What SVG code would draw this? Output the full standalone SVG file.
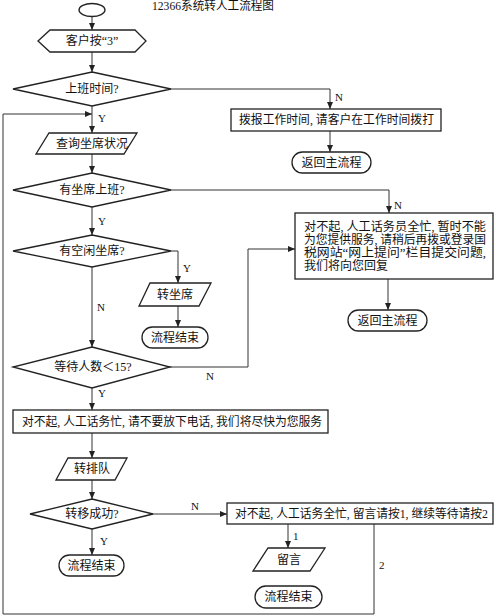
<svg xmlns="http://www.w3.org/2000/svg" width="496" height="616" viewBox="0 0 496 616">
<defs>
<style>
.s{fill:#fff;stroke:#222;stroke-width:1.3}
.c{fill:none;stroke:#333;stroke-width:1}
.t{font-family:"Liberation Serif","Noto Sans CJK SC",serif;font-size:12px;fill:#111}
.m{text-anchor:middle}
.l{font-family:"Liberation Serif","Noto Sans CJK SC",serif;font-size:11px;fill:#111}
</style>
<marker id="a" markerUnits="userSpaceOnUse" markerWidth="7" markerHeight="6" refX="7" refY="3" orient="auto">
<path d="M0,0 L7,3 L0,6 z" fill="#222"/>
</marker>
</defs>
<rect width="496" height="616" fill="#fff"/>
<text class="t" x="152" y="10" textLength="122" lengthAdjust="spacingAndGlyphs">12366系统转人工流程图</text>

<g id="connectors">
<line class="c" x1="92" y1="16" x2="92" y2="30" marker-end="url(#a)"/>
<line class="c" x1="92" y1="52" x2="92" y2="72" marker-end="url(#a)"/>
<polyline class="c" points="171,89 330,89 330,109" marker-end="url(#a)"/>
<line class="c" x1="330" y1="131" x2="330" y2="152" marker-end="url(#a)"/>
<line class="c" x1="92" y1="106" x2="92" y2="133" marker-end="url(#a)"/>
<line class="c" x1="92" y1="154" x2="92" y2="173" marker-end="url(#a)"/>
<polyline class="c" points="171,190 389,190 389,213" marker-end="url(#a)"/>
<line class="c" x1="92" y1="207" x2="92" y2="235" marker-end="url(#a)"/>
<polyline class="c" points="171,251 178,251 178,283" marker-end="url(#a)"/>
<line class="c" x1="178" y1="306" x2="178" y2="327" marker-end="url(#a)"/>
<line class="c" x1="92" y1="267" x2="92" y2="347" marker-end="url(#a)"/>
<polyline class="c" points="170,367 248,367 248,249 295,249" marker-end="url(#a)"/>
<line class="c" x1="388" y1="279" x2="388" y2="310" marker-end="url(#a)"/>
<line class="c" x1="92" y1="388" x2="92" y2="410" marker-end="url(#a)"/>
<line class="c" x1="92" y1="433" x2="92" y2="458" marker-end="url(#a)"/>
<line class="c" x1="92" y1="480" x2="92" y2="499" marker-end="url(#a)"/>
<line class="c" x1="153" y1="514" x2="227" y2="514" marker-end="url(#a)"/>
<line class="c" x1="92" y1="529" x2="92" y2="555" marker-end="url(#a)"/>
<line class="c" x1="288" y1="524" x2="288" y2="548" marker-end="url(#a)"/>
<polyline class="c" points="374,524 374,614 3,614 3,114 92,114" marker-end="url(#a)"/>
<text class="l" x="335" y="101">N</text>
<text class="l" x="98" y="122">Y</text>
<text class="l" x="394" y="209">N</text>
<text class="l" x="98" y="225">Y</text>
<text class="l" x="183" y="272">Y</text>
<text class="l" x="97" y="311">N</text>
<text class="l" x="206" y="380">N</text>
<text class="l" x="98" y="397">Y</text>
<text class="l" x="191" y="510">N</text>
<text class="l" x="100" y="545">Y</text>
<text class="l" x="293" y="540">1</text>
<text class="l" x="379" y="569">2</text>
</g>

<g id="start"><ellipse class="s" cx="92" cy="10" rx="13" ry="6.5"/></g>
<g id="press3"><polygon class="s" points="38,41 50,30 135,30 146,41 135,52 50,52"/><text class="t m" x="92" y="45">客户按“3”</text></g>
<g id="worktime"><polygon class="s" points="92,72 171,89 92,106 13,89"/><text class="t m" x="92" y="93">上班时间?</text></g>
<g id="announce"><rect class="s" x="231" y="109" width="210" height="22"/><text class="t" x="239" y="124" textLength="195" lengthAdjust="spacingAndGlyphs">拨报工作时间, 请客户在工作时间拨打</text></g>
<g id="return1"><rect class="s" x="292" y="152" width="79" height="21" rx="10.5"/><text class="t m" x="331.5" y="166.5">返回主流程</text></g>
<g id="query"><polygon class="s" points="49,133 137,133 124,154 36,154"/><text class="t m" x="92" y="148">查询坐席状况</text></g>
<g id="agentson"><polygon class="s" points="92,173 171,190 92,207 13,190"/><text class="t m" x="92" y="194">有坐席上班?</text></g>
<g id="busyall"><rect class="s" x="295" y="213" width="198" height="66"/>
<text class="t" x="304" y="231" textLength="182" lengthAdjust="spacingAndGlyphs">对不起, 人工话务员全忙, 暂时不能</text>
<text class="t" x="304" y="244" textLength="182" lengthAdjust="spacingAndGlyphs">为您提供服务, 请稍后再拨或登录国</text>
<text class="t" x="304" y="257" textLength="182" lengthAdjust="spacingAndGlyphs">税网站“网上提问”栏目提交问题,</text>
<text class="t" x="304" y="270">我们将向您回复</text></g>
<g id="return2"><rect class="s" x="348" y="310" width="79" height="21" rx="10.5"/><text class="t m" x="387.5" y="324.5">返回主流程</text></g>
<g id="idle"><polygon class="s" points="92,235 171,251 92,267 13,251"/><text class="t m" x="92" y="255">有空闲坐席?</text></g>
<g id="toagent"><polygon class="s" points="150,283 211,283 199,306 139,306"/><text class="t m" x="175" y="299">转坐席</text></g>
<g id="end1"><rect class="s" x="142" y="327" width="66" height="21" rx="10.5"/><text class="t m" x="175" y="341.5">流程结束</text></g>
<g id="wait"><polygon class="s" points="92,347 170,367 92,388 13,367"/><text class="t m" x="93" y="371">等待人数＜15?</text></g>
<g id="hold"><rect class="s" x="13" y="410" width="315" height="23"/><text class="t" x="22" y="426" textLength="300" lengthAdjust="spacingAndGlyphs">对不起, 人工话务忙, 请不要放下电话, 我们将尽快为您服务</text></g>
<g id="queue"><polygon class="s" points="68,458 127,458 115,480 56,480"/><text class="t m" x="92" y="473">转排队</text></g>
<g id="success"><polygon class="s" points="92,499 153,514 92,529 30,514"/><text class="t m" x="92" y="518">转移成功?</text></g>
<g id="end2"><rect class="s" x="59" y="555" width="65" height="21" rx="10.5"/><text class="t m" x="91.5" y="569.5">流程结束</text></g>
<g id="allbusy"><rect class="s" x="227" y="503" width="266" height="21"/><text class="t" x="235" y="518" textLength="253" lengthAdjust="spacingAndGlyphs">对不起, 人工话务全忙, 留言请按1, 继续等待请按2</text></g>
<g id="message"><polygon class="s" points="268,548 325,548 310,571 253,571"/><text class="t m" x="289" y="564">留言</text></g>
<g id="end3"><rect class="s" x="255" y="586" width="67" height="22" rx="11"/><text class="t m" x="288.5" y="601">流程结束</text></g>
</svg>
